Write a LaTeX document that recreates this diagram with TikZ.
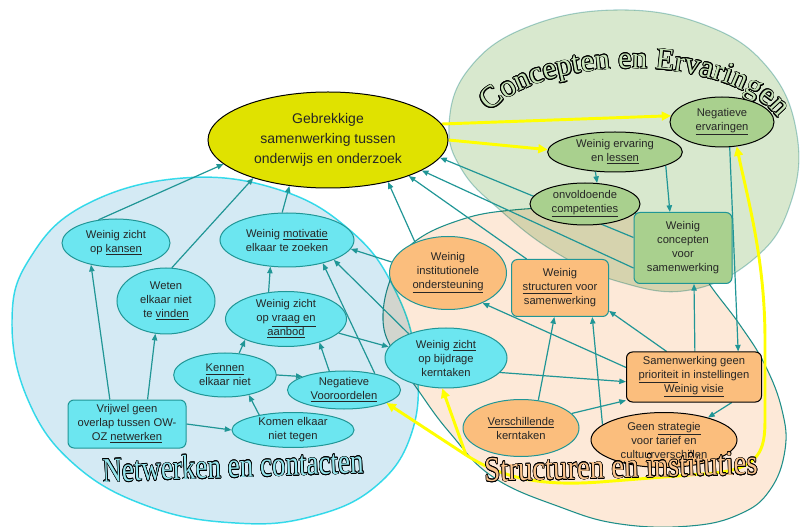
\documentclass[tikz,border=0pt]{standalone}
\usepackage{fontspec}
\setmainfont{Liberation Sans}
\newfontfamily\TitleFont{Liberation Serif}
\usepackage{xcolor}
\usepackage{contour}
\contourlength{0.55pt}
\definecolor{ColEdge}{RGB}{32,150,150}
\definecolor{ColCyan}{RGB}{108,230,240}
\definecolor{ColOrange}{RGB}{251,190,125}
\definecolor{ColGreen}{RGB}{169,208,142}
\definecolor{ColYellow}{RGB}{224,226,0}
\definecolor{ColArrowY}{RGB}{255,255,0}
\definecolor{ColBgBlue}{RGB}{212,234,244}
\definecolor{ColBgGreen}{RGB}{216,232,206}
\definecolor{ColBgOrange}{RGB}{253,233,216}
\definecolor{ColRimBlue}{RGB}{60,228,240}
\definecolor{ColRimGreen}{RGB}{170,212,214}
\definecolor{ColText}{RGB}{38,38,38}
\definecolor{ColTitleNW}{RGB}{150,230,238}
\definecolor{ColTitleST}{RGB}{250,196,142}
\definecolor{ColTitleCE}{RGB}{200,228,185}
\usepackage{tikz}
\usetikzlibrary{shapes.geometric}
\usetikzlibrary{arrows.meta}
\usetikzlibrary{decorations.text}
\pgfdeclarelayer{bg}
\pgfdeclarelayer{edges}
\pgfdeclarelayer{titles}
\pgfsetlayers{bg,edges,titles,main}
\newcommand{\ArcChar}[1]{\contour{black}{#1}}
\tikzstyle{Node}=[ellipse,inner sep=0pt,text=ColText,align=center,
font=\fontsize{8.4}{10.5}\selectfont,line width=0.75pt]
\tikzstyle{NodeNW}=[Node,draw=ColEdge,fill=ColCyan]
\tikzstyle{NodeST}=[Node,draw=ColEdge,fill=ColOrange]
\tikzstyle{NodeCE}=[Node,draw=black,fill=ColGreen]
\tikzstyle{NodeNWBox}=[NodeNW,rectangle,rounded corners=4.5pt]
\tikzstyle{NodeSTBox}=[NodeST,rectangle,rounded corners=4.5pt]
\tikzstyle{NodeCEBox}=[NodeCE,rectangle,rounded corners=4.5pt,draw=ColEdge]
\tikzstyle{NodeMain}=[Node,draw=black,fill=ColYellow,
font=\fontsize{10.5}{15}\selectfont]
\tikzstyle{Title}=[inner sep=0pt,font=\TitleFont\fontsize{26}{26}\selectfont]
\tikzstyle{Edge}=[draw=ColEdge,line width=0.9pt,-{Triangle[length=5pt,width=4pt]}]
\tikzstyle{EdgeY}=[draw=ColArrowY,line width=2.2pt,-{Triangle[length=7pt,width=6.5pt]}]

\begin{document}
\begin{tikzpicture}[x=0.75pt,y=-0.75pt]
    \useasboundingbox(0,0)rectangle(800,527);
    % areas
    \begin{pgfonlayer}{bg}
    \begin{scope}[blend mode=multiply]
        \draw[fill=ColBgBlue,draw=ColRimBlue,line width=1.1pt]plot[smooth cycle,tension=0.7]
            coordinates{(12,320)(30,258)(85,205)(183,178)(280,190)(352,232)(395,290)
            (416,360)(412,432)(375,487)(310,517)(235,523)(150,507)(75,465)(28,400)};
        \draw[fill=ColBgGreen,draw=ColRimGreen,line width=0.8pt]plot[smooth cycle,tension=0.7]
            coordinates{(449,125)(468,70)(525,28)(615,10)(705,25)(768,68)(797,135)
            (790,205)(755,258)(690,290)(620,282)(555,252)(500,210)(462,170)};
        \draw[fill=ColBgOrange,draw=ColEdge,line width=0.8pt]plot[smooth cycle,tension=0.7]
            coordinates{(383,320)(392,275)(413,243)(460,220)(513,210)(580,208)(635,213)
            (680,240)(710,285)(740,325)(765,365)(782,410)(785,450)(770,490)(740,514)
            (690,526)(620,524)(560,507)(493,477)(450,433)(418,390)(395,355)};
    \end{scope}
    \end{pgfonlayer}
    \begin{pgfonlayer}{titles}
        \path[decorate,decoration={text effects along path,
            text={Concepten en Ervaringen},text align=center,
            text effects/.cd,text along path,
            characters={text=ColTitleCE,inner sep=0pt,
            font=\TitleFont\fontsize{23}{23}\selectfont},
            character command=\ArcChar}]
            (486,117)arc[start angle=200,end angle=345,x radius=155,y radius=74];
    \end{pgfonlayer}
    % nodes
    \node[NodeMain,minimum width=180pt,minimum height=72pt](gebrek)at(328,140)
        {Gebrekkige\\samenwerking tussen\\onderwijs en onderzoek};
    \node[NodeCE,minimum width=78pt,minimum height=37.5pt](negerv)at(722,122)
        {Negatieve\\\underline{ervaringen}};
    \node[NodeCE,minimum width=101pt,minimum height=30pt](ervaring)at(615,152)
        {Weinig ervaring\\en \underline{lessen}};
    \node[NodeCE,minimum width=82.5pt,minimum height=31.5pt](compet)at(585,204)
        {onvoldoende\\\underline{competenties}};
    \node[NodeCEBox,minimum width=73.5pt,minimum height=53.25pt](concept)at(683,248)
        {Weinig\\concepten\\voor\\samenwerking};
    \node[NodeST,minimum width=87.75pt,minimum height=54.75pt](instit)at(448,273)
        {Weinig\\institutionele\\\underline{ondersteuning}};
    \node[NodeSTBox,minimum width=72.75pt,minimum height=42.75pt](struct)at(560,288)
        {Weinig\\\underline{structuren} voor\\samenwerking};
    \node[NodeNW,minimum width=91.5pt,minimum height=45pt](bijdrage)at(446,358)
        {Weinig \underline{zicht}\\op bijdrage\\kerntaken};
    \node[NodeSTBox,draw=black,minimum width=101.25pt,minimum height=37.5pt](priorit)at(694,377)
        {Samenwerking geen\\\underline{prioriteit} in instellingen\\\underline{Weinig visie}};
    \node[NodeST,minimum width=87pt,minimum height=42.75pt](kerntaak)at(521,428)
        {\underline{Verschillende}\\kerntaken};
    \node[NodeST,draw=black,minimum width=109.5pt,minimum height=41.25pt](strateg)at(664,440)
        {Geen \underline{strategie}\\voor tarief en\\cultuurverschillen};
    \node[NodeNW,minimum width=81pt,minimum height=36pt](kansen)at(116,243)
        {Weinig zicht\\op \underline{kansen}};
    \node[NodeNW,minimum width=73.5pt,minimum height=49.5pt](vinden)at(166,301)
        {Weten\\elkaar niet\\te \underline{vinden}};
    \node[NodeNW,minimum width=100.5pt,minimum height=40.5pt](motiv)at(287,240)
        {Weinig \underline{motivatie}\\elkaar te zoeken};
    \node[NodeNW,minimum width=90.75pt,minimum height=40.5pt](vraag)at(286,319)
        {Weinig zicht\\op \underline{vraag en}\\\underline{aanbod}};
    \node[NodeNW,minimum width=77pt,minimum height=33pt](kennen)at(225,375)
        {\underline{Kennen}\\elkaar niet};
    \node[NodeNW,minimum width=84.75pt,minimum height=28.5pt](vooroord)at(344,390)
        {Negatieve\\\underline{Vooroordelen}};
    \node[NodeNWBox,minimum width=88.5pt,minimum height=36pt](overlap)at(127,424)
        {Vrijwel geen\\overlap tussen OW-\\OZ \underline{netwerken}};
    \node[NodeNW,minimum width=91.5pt,minimum height=26.25pt](komen)at(293,430)
        {Komen elkaar\\niet tegen};
    % area titles
    \node[Title,text=ColTitleNW,rotate=2,xscale=0.78](tnw)at(233,466)
        {\contour{black}{Netwerken en contacten}};
    \node[Title,text=ColTitleST,rotate=1.5,xscale=0.83](tst)at(621,467)
        {\contour{black}{Structuren en instituties}};
    % connectors
    \begin{pgfonlayer}{edges}
        \draw[Edge](kansen.127)--(gebrek.193);
        \draw[Edge](vinden.80)--(gebrek.207);
        \draw[Edge](motiv.100)--(gebrek.230);
        \draw[Edge](overlap.125)--(kansen.221);
        \draw[Edge](overlap.50)--(vinden.252);
        \draw[Edge](overlap.east)--(komen.west);
        \draw[Edge](komen.156)--(kennen.320);
        \draw[Edge](kennen.east)--(vooroord.162);
        \draw[Edge](kennen.57)--(vraag.207);
        \draw[Edge](vooroord.128)--(vraag.325);
        \draw[Edge](vraag.123)--(motiv.238);
        \draw[Edge](vraag.345)--(bijdrage.169);
        \draw[Edge](vooroord.28)--(motiv.327);
        \draw[Edge](bijdrage.147)--(motiv.337);
        \draw[Edge](instit.169)--(motiv.352);
        \draw[Edge](instit.137)--(gebrek.325);
        \draw[Edge](struct.139)--(gebrek.336);
        \draw[Edge](concept.168)--(gebrek.351);
        \draw[Edge](concept.202)--(gebrek.342);
        \draw[Edge](ervaring.225)--(compet.60);
        \draw[Edge](ervaring.345)--(concept.110);
        \draw[Edge](negerv.287)--(priorit.30);
        \draw[Edge](priorit.88)--(concept.287);
        \draw[Edge](priorit.137)--(struct.335);
        \draw[Edge](priorit.172)--(instit.319);
        \draw[Edge](bijdrage.345)--(priorit.184);
        \draw[Edge](kerntaak.16)--(priorit.199);
        \draw[Edge](kerntaak.58)--(struct.259);
        \draw[Edge](strateg.166)--(struct.318);
        \draw[Edge](priorit.326)--(strateg.27);
        % yellow links
        \draw[EdgeY](gebrek.8)--(negerv.173);
        \draw[EdgeY](gebrek.0)--(ervaring.178);
        \coordinate(split)at(466,455);
        \draw[EdgeY](split)--(bijdrage.263);
        \draw[EdgeY](split)--(vooroord.343);
        \draw[EdgeY](split).. controls(505,480)and(545,486)..(600,482)--(715,473)
            .. controls(760,468)and(765,450)..(765,420)--(765,340)
            .. controls(765,260)and(748,200)..(negerv.301);
    \end{pgfonlayer}
\end{tikzpicture}
\end{document}
